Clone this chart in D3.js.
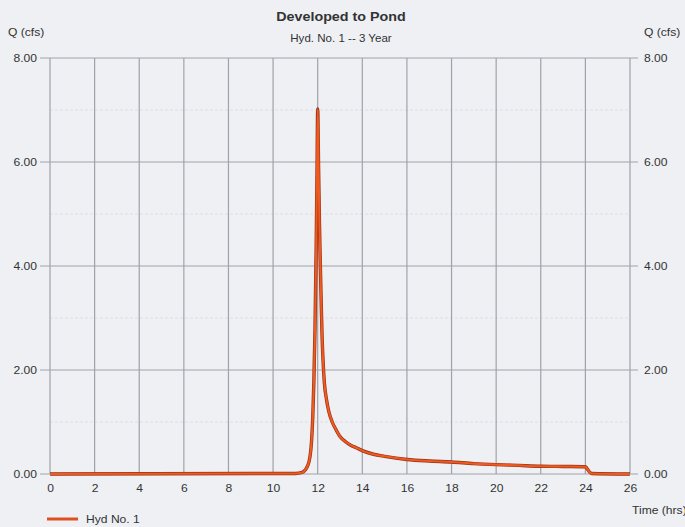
<!DOCTYPE html>
<html><head><meta charset="utf-8">
<script src="https://cdn.jsdelivr.net/npm/d3@7"></script>
<style>
body{margin:0;background:#eef0f4;}
text{font-family:"Liberation Sans",Arial,sans-serif;fill:#333;}
</style></head>
<body>
<svg id="c" width="685" height="527"></svg>
<script>
const title = "Developed to Pond";
const subtitle = "Hyd. No. 1 -- 3 Year";
const seriesName = "Hyd No. 1";
const times = [0, 11.0, 11.3, 11.45, 11.55, 11.65, 11.72, 11.78, 11.83, 11.88, 11.93, 11.97, 12.0, 12.04, 12.08, 12.12, 12.16, 12.2, 12.25, 12.3, 12.4, 12.5, 12.65, 12.8, 13.0, 13.25, 13.5, 13.75, 14.0, 14.5, 15.0, 16.0, 17.0, 18.0, 19.0, 20.0, 21.0, 22.0, 23.0, 24.0, 24.08, 24.18, 24.28, 26.0];
const flows = [0.0, 0.01, 0.03, 0.08, 0.16, 0.32, 0.6, 1.1, 1.8, 2.8, 4.3, 5.8, 7.02, 5.9, 4.8, 4.0, 3.25, 2.6, 2.1, 1.75, 1.42, 1.2, 1.0, 0.87, 0.72, 0.62, 0.55, 0.5, 0.45, 0.38, 0.34, 0.28, 0.25, 0.23, 0.2, 0.18, 0.165, 0.15, 0.145, 0.14, 0.1, 0.04, 0.01, 0.0];
const xTicks = [0,2,4,6,8,10,12,14,16,18,20,22,24,26];
const yTicks = [0,2,4,6,8];
const yMinor = [1,3,5,7];

const svg = d3.select("#c");
const x = d3.scaleLinear().domain([0,26]).range([50,630]);
const y = d3.scaleLinear().domain([0,8]).range([474,58]);

// minor gridlines
svg.append("g").selectAll("line").data(yMinor).join("line")
  .attr("x1",x(0)).attr("x2",x(26)).attr("y1",d=>y(d)).attr("y2",d=>y(d))
  .attr("stroke","#d6d9df").attr("stroke-width",0.8).attr("stroke-dasharray","3,2");

// vertical gridlines
svg.append("g").selectAll("line").data(xTicks).join("line")
  .attr("x1",d=>x(d)).attr("x2",d=>x(d)).attr("y1",y(8)).attr("y2",y(0))
  .attr("stroke","#9fa2aa").attr("stroke-width",1.2);
// horizontal gridlines with ticks
svg.append("g").selectAll("line").data(yTicks).join("line")
  .attr("x1",x(0)-10).attr("x2",x(26)+8).attr("y1",d=>y(d)).attr("y2",d=>y(d))
  .attr("stroke","#9fa2aa").attr("stroke-width",1.2);

const yl = svg.append("g").attr("transform",`translate(${x(0)-10},0)`)
  .call(d3.axisLeft(y).tickValues(yTicks).tickFormat(d3.format(".2f")).tickSize(0).tickPadding(3));
const yr = svg.append("g").attr("transform",`translate(${x(26)+8},0)`)
  .call(d3.axisRight(y).tickValues(yTicks).tickFormat(d3.format(".2f")).tickSize(0).tickPadding(6));
const xa = svg.append("g").attr("transform",`translate(0,${y(0)})`)
  .call(d3.axisBottom(x).tickValues(xTicks).tickFormat(d3.format("d")).tickSize(0).tickPadding(10));
[yl,yr,xa].forEach(g=>{g.select(".domain").remove();
  g.selectAll("text").style("font-family","Liberation Sans, Arial, sans-serif").style("font-size","11px").attr("fill","#333");});

// line
const line = d3.line().x((d,i)=>x(times[i])).y(d=>y(d)).curve(d3.curveMonotoneX);
svg.append("path").datum(flows).attr("d",line).attr("fill","none")
  .attr("stroke","#9a3014").attr("stroke-width",3.4).attr("stroke-linejoin","round");
svg.append("path").datum(flows).attr("d",line).attr("fill","none")
  .attr("stroke","#ee5a1f").attr("stroke-width",2.1).attr("stroke-linejoin","round");

// titles
svg.append("text").attr("x",341).attr("y",21).attr("text-anchor","middle")
  .style("font-size","13px").style("font-weight","bold").text(title);
svg.append("text").attr("x",341).attr("y",42).attr("text-anchor","middle")
  .style("font-size","10.5px").text(subtitle);
svg.append("text").attr("x",8).attr("y",36).style("font-size","11px").text("Q (cfs)");
svg.append("text").attr("x",644).attr("y",36).style("font-size","11px").text("Q (cfs)");
svg.append("text").attr("x",632).attr("y",514).style("font-size","11px").text("Time (hrs)");

// legend
svg.append("line").attr("x1",47).attr("x2",78).attr("y1",519).attr("y2",519)
  .attr("stroke","#e0501e").attr("stroke-width",3);
svg.append("text").attr("x",86).attr("y",523).style("font-size","11px").text(seriesName);

// slight horizontal stretch of text to match reference glyph widths
svg.selectAll("text").each(function(){
  const w = this.getComputedTextLength();
  d3.select(this).attr("textLength", w*1.1).attr("lengthAdjust","spacingAndGlyphs");
});
</script>
</body></html>
